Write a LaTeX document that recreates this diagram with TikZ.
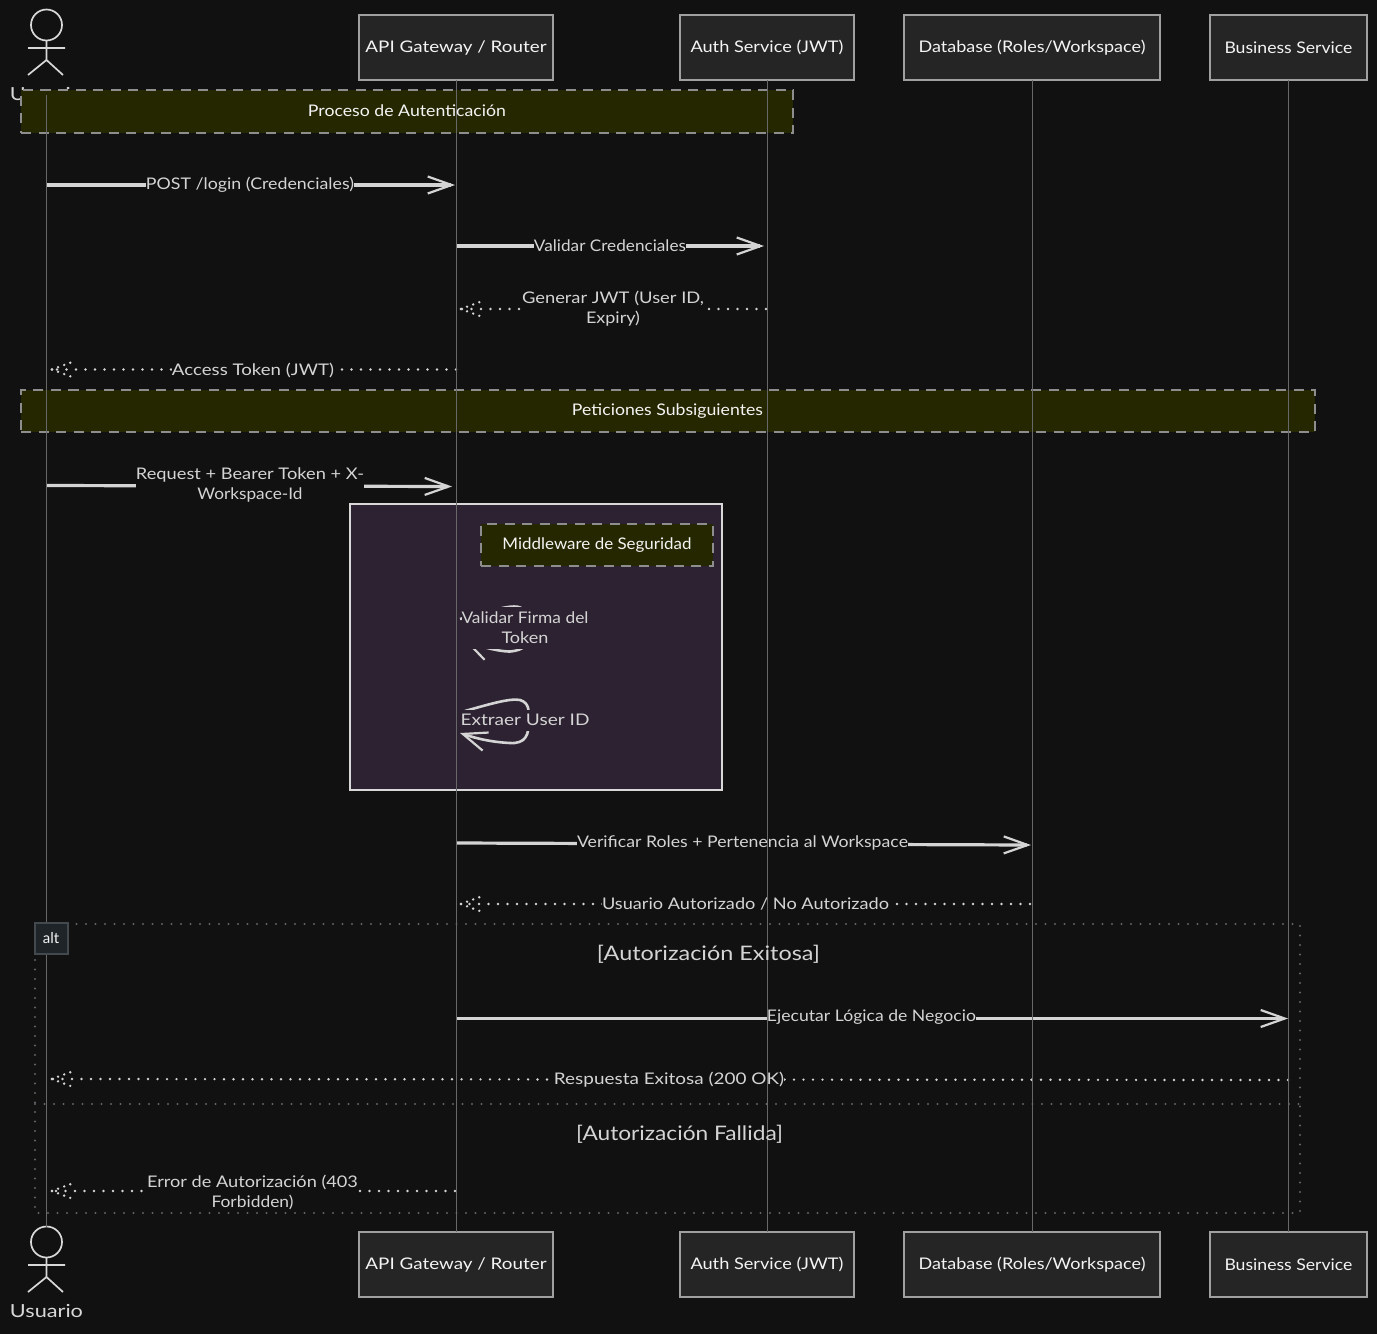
\documentclass[tikz,border=0pt]{standalone}
\usepackage{graphicx}
\usepackage{fontspec}
\setmainfont{Lato}
\usetikzlibrary{arrows.meta}
\definecolor{bgc}{HTML}{111112}
\definecolor{boxf}{HTML}{252525}
\definecolor{boxs}{HTML}{A0A0A0}
\definecolor{txt}{HTML}{F4F4F4}
\definecolor{msgc}{HTML}{D4D4D4}
\definecolor{lifec}{HTML}{686868}
\definecolor{notef}{HTML}{252700}
\definecolor{notes}{HTML}{8E8E8E}
\definecolor{actf}{HTML}{2D2231}
\definecolor{acts}{HTML}{D8D8D8}
\definecolor{altc}{HTML}{5F6569}
\definecolor{altf}{HTML}{1F2428}
\definecolor{alts}{HTML}{424A50}
\newcommand{\fitw}[2]{\resizebox{#1pt}{\height}{#2}}
\newcommand{\dothead}[1]{%
  \draw[headdot] (#1) -- ++(24,-9);
  \draw[headdot] (#1) -- ++(24,9);}
\tikzset{
  x=1pt,y=-1pt,
  every node/.style={inner sep=0pt,outer sep=0pt,font=\fontsize{16}{20}\selectfont,text=txt},
  part/.style={draw=boxs,fill=boxf,line width=2.2pt,minimum height=65pt,anchor=center},
  life/.style={draw=lifec,line width=1pt},
  actorline/.style={draw=acts,line width=1.7pt},
  actorname/.style={font=\fontsize{18}{22}\selectfont,text=acts},
  notebox/.style={draw=notes,fill=notef,line width=2.6pt,dash pattern=on 10pt off 7.5pt},
  notetext/.style={text=txt},
  msg/.style={draw=msgc,line width=3.2pt,-{Straight Barb[length=24pt,width=17pt,line width=2.2pt]}},
  dotline/.style={draw=msgc,line width=2.7pt,line cap=round,dash pattern=on 0pt off 9.5pt},
  headdot/.style={draw=msgc,line width=2.7pt,line cap=round,dash pattern=on 0pt off 6.5pt},
  lbl/.style={fill=bgc,text=msgc},
  lblact/.style={fill=actf,text=msgc},
  selfmsg/.style={draw=msgc,line width=2.6pt,-{Straight Barb[length=24pt,width=19pt,line width=2.2pt]}},
  altline/.style={draw=altc,line width=2.4pt,line cap=round,dash pattern=on 0pt off 9.5pt},
  alttitle/.style={font=\fontsize{20}{24}\selectfont,text=msgc},
}
\begin{document}
\begin{tikzpicture}
\useasboundingbox[fill=bgc] (0,0) rectangle (1377,1334);

% participants
\node[part,minimum width=194pt] (api) at (456,47.5) {\fitw{181}{API Gateway / Router}};
\node[part,minimum width=174pt] (auth) at (767,47.5) {\fitw{153}{Auth Service (JWT)}};
\node[part,minimum width=256pt] (db) at (1032,47.5) {\fitw{227}{Database (Roles/Workspace)}};
\node[part,minimum width=157pt] (biz) at (1288.5,47.5) {\fitw{128}{Business Service}};
\node[part,minimum width=194pt] (apib) at (456,1264.5) {\fitw{181}{API Gateway / Router}};
\node[part,minimum width=174pt] (authb) at (767,1264.5) {\fitw{153}{Auth Service (JWT)}};
\node[part,minimum width=256pt] (dbb) at (1032,1264.5) {\fitw{227}{Database (Roles/Workspace)}};
\node[part,minimum width=157pt] (bizb) at (1288.5,1264.5) {\fitw{128}{Business Service}};

% actors
\node[actorname] (usr) at (46.5,94) {\fitw{73}{Usuario}};
\node[actorname] (usrb) at (46.5,1311) {\fitw{73}{Usuario}};
\draw[actorline] (46.5,25) circle (15.5);
\draw[actorline] (28,48) -- (65,48) (46.5,40) -- (46.5,60) (28,75) -- (46.5,60) -- (63,75);
\draw[actorline] (46.5,1242) circle (15.5);
\draw[actorline] (28,1265) -- (65,1265) (46.5,1257) -- (46.5,1277) (28,1292) -- (46.5,1277) -- (63,1292);
\coordinate (ut) at (46,95);
\coordinate (ub) at (46,1227);

% notes (fills)
\node[notebox,minimum width=772pt,minimum height=43pt] (n1) at (407,111.5) {};
\node[notebox,minimum width=1294pt,minimum height=42pt] (n2) at (668,411) {};

% activation box
\node[draw=acts,fill=actf,line width=2pt,minimum width=372pt,minimum height=286pt] (act) at (536,647) {};
\node[notebox,minimum width=232pt,minimum height=42pt] (n3) at (597,545) {};

% alt frame
\coordinate (fa) at (35,960);
\coordinate (fb) at (35,1213);
\coordinate (fc) at (1300,1213);
\coordinate (fd) at (1300,924);
\coordinate (fe) at (72,924);
\draw[altline] (fa) -- (fb) -- (fc) -- (fd) -- (fe);
\coordinate (sa) at (35,1104);
\coordinate (sb) at (1300,1104);
\draw[altline] (sa) -- (sb);

% messages
\coordinate (m1s) at (47,185); \coordinate (m1e) at (455,185);
\draw[msg] (m1s) -- (m1e);
\coordinate (m2s) at (457,246); \coordinate (m2e) at (764,246);
\draw[msg] (m2s) -- (m2e);
\coordinate (m3s) at (766,309); \coordinate (m3e) at (461,309);
\draw[dotline] (m3s) -- (m3e); \dothead{m3e}
\coordinate (m4s) at (456,369.5); \coordinate (m4e) at (52,369.5);
\draw[dotline] (m4s) -- (m4e); \dothead{m4e}
\coordinate (m5s) at (47,485.5); \coordinate (m5e) at (452,486.5);
\draw[msg] (m5s) -- (m5e);
\coordinate (m7s) at (457,843); \coordinate (m7e) at (1031,845);
\draw[msg] (m7s) -- (m7e);
\coordinate (m8s) at (1030,904); \coordinate (m8e) at (461,904);
\draw[dotline] (m8s) -- (m8e); \dothead{m8e}
\coordinate (m9s) at (457,1018.5); \coordinate (m9e) at (1288,1018.5);
\draw[msg] (m9s) -- (m9e);
\coordinate (m10s) at (1288,1080); \coordinate (m10e) at (52,1079);
\draw[dotline] (m10s) -- (m10e); \dothead{m10e}
\coordinate (m11s) at (455,1191); \coordinate (m11e) at (52,1191);
\draw[dotline] (m11s) -- (m11e); \dothead{m11e}

% self messages
\coordinate (s1s) at (460,619); \coordinate (s1e) at (464,640);
\draw[selfmsg] (s1s) .. controls (490,611) and (505,606.5) .. (514,606.5) .. controls (524,606.5) and (529,612) .. (528,630) .. controls (529,645) and (525,650) .. (510,651.5) .. controls (497,651.5) and (475,645) .. (s1e);
\coordinate (s2s) at (465,711); \coordinate (s2e) at (460,733);
\draw[selfmsg] (s2s) .. controls (490,704) and (510,698) .. (520,700) .. controls (530,703) and (529,712) .. (528,720) .. controls (530,735) and (525,744) .. (510,743) .. controls (490,742) and (475,738) .. (s2e);

% labels
\node[lbl] (l1) at (250,184.5) {\fitw{208}{POST /login (Credenciales)}};
\node[lbl] (l2) at (610,246) {\fitw{152}{Validar Credenciales}};
\node[lbl,align=center] (l3) at (613,308.5) {\fitw{182}{Generar JWT (User ID,}\\\fitw{54}{Expiry)}};
\node[lbl] (l4) at (253,370) {\fitw{162}{Access Token (JWT)}};
\node[lbl,align=center] (l5) at (250,484.5) {\fitw{228}{Request + Bearer Token + X-}\\\fitw{105}{Workspace-Id}};
\node[lblact,align=center,minimum height=42pt] (l6) at (525,628) {\fitw{127}{Validar Firma del}\\\fitw{47}{Token}};
\node[lblact,minimum height=21pt] (l6b) at (525,720) {\fitw{129}{Extraer User ID}};
\node[lbl] (l7) at (742.5,842.5) {\fitw{331}{Verificar Roles + Pertenencia al Workspace}};
\node[lbl] (l8) at (745.5,904) {\fitw{287}{Usuario Autorizado / No Autorizado}};
\node[lbl] (l9) at (871.5,1017.5) {\fitw{209}{Ejecutar Lógica de Negocio}};
\node[lbl] (l10) at (669,1079.5) {\fitw{230}{Respuesta Exitosa (200 OK)}};
\node[lbl,align=center] (l11) at (252.5,1192) {\fitw{211}{Error de Autorización (403}\\\fitw{82}{Forbidden)}};

% lifelines
\draw[life] (ut) -- (ub);
\draw[life] (api) -- (apib);
\draw[life] (auth) -- (authb);
\draw[life] (db) -- (dbb);
\draw[life] (biz) -- (bizb);

% texts over lifelines
\node[notetext] (t1) at (407,111) {\fitw{198}{Proceso de Autenticación}};
\node[notetext] (t2) at (667.5,411.5) {\fitw{191}{Peticiones Subsiguientes}};
\node[notetext] (t3) at (597,545.5) {\fitw{189}{Middleware de Seguridad}};
\node[draw=alts,fill=altf,line width=2pt,minimum width=33pt,minimum height=31pt,font=\fontsize{15}{18}\selectfont] (altl) at (51,938.5) {alt};
\node[alttitle] (a1) at (708.5,954.5) {\fitw{223}{[Autorización Exitosa]}};
\node[alttitle] (a2) at (679.5,1134.5) {\fitw{207}{[Autorización Fallida]}};
\end{tikzpicture}
\end{document}
